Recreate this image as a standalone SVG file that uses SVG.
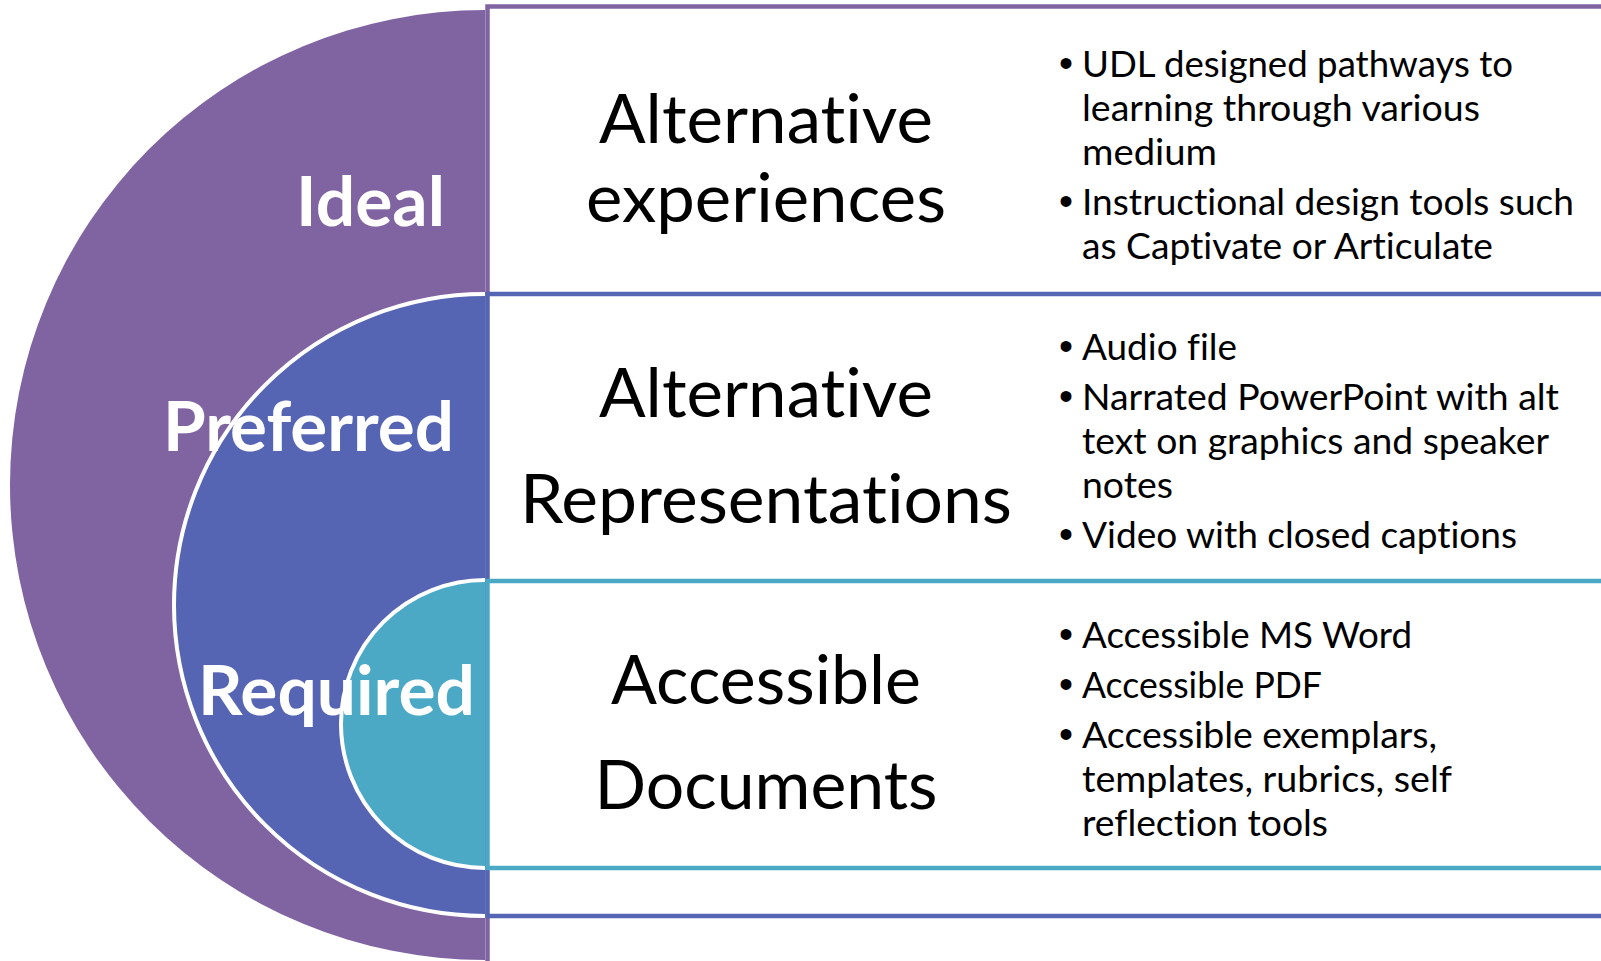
<svg xmlns="http://www.w3.org/2000/svg" width="1601" height="961" viewBox="0 0 1601 961">
<style>
text{font-variant-ligatures:none;font-feature-settings:"liga" 0,"clig" 0,"calt" 0,"dlig" 0}
.lbl{font-family:Lato,"Liberation Sans",sans-serif;font-weight:bold;font-size:68px;fill:#fff}
.ttl{font-family:Lato,"Liberation Sans",sans-serif;font-size:68px;fill:#000;text-anchor:middle}
.bt{font-family:Lato,"Liberation Sans",sans-serif;font-size:37px;fill:#000}
.bu{font-family:"Liberation Sans",sans-serif;font-size:40px;fill:#000;text-anchor:middle}
.box{fill:#fff;stroke-width:4.5}
.arc{fill:none;stroke:#fff;stroke-width:4}
</style>
<rect width="1601" height="961" fill="#fff"/>
<g id="ideal">
<path d="M485,10 A475,475 0 0 0 485,960 Z" fill="#8064A2"/>
<rect class="box" x="487.5" y="6.5" width="1200" height="1000" stroke="#8064A2"/>
</g>
<g id="preferred">
<path d="M485,294 A311,311 0 0 0 485,916 Z" fill="#5665B3"/>
<path class="arc" d="M485,294 A311,311 0 0 0 485,916"/>
<rect class="box" x="487.5" y="294" width="1200" height="622" stroke="#5665B3"/>
</g>
<g id="required">
<path d="M485,580 A144,144 0 0 0 485,868 Z" fill="#4BA9C6"/>
<path class="arc" d="M485,580 A144,144 0 0 0 485,868"/>
<rect class="box" x="487.5" y="581" width="1200" height="287" stroke="#4BA9C6"/>
</g>
<g id="labels">
<text class="lbl" x="296" y="226" textLength="149" lengthAdjust="spacingAndGlyphs">Ideal</text>
<text class="lbl" x="163" y="451" textLength="291" lengthAdjust="spacingAndGlyphs">Preferred</text>
<text class="lbl" x="198" y="715" textLength="277" lengthAdjust="spacingAndGlyphs">Required</text>
</g>
<g id="row1">
<text class="ttl" x="766" y="143" textLength="334" lengthAdjust="spacingAndGlyphs">Alternative</text>
<text class="ttl" x="766" y="222" textLength="360" lengthAdjust="spacingAndGlyphs">experiences</text>
<text class="bu" x="1066" y="77">•</text>
<text class="bt" x="1082" y="77" textLength="431" lengthAdjust="spacingAndGlyphs">UDL designed pathways to</text>
<text class="bt" x="1082" y="121" textLength="398" lengthAdjust="spacingAndGlyphs">learning through various</text>
<text class="bt" x="1082" y="165" textLength="135" lengthAdjust="spacingAndGlyphs">medium</text>
<text class="bu" x="1066" y="215">•</text>
<text class="bt" x="1082" y="215" textLength="492" lengthAdjust="spacingAndGlyphs">Instructional design tools such</text>
<text class="bt" x="1082" y="259" textLength="411" lengthAdjust="spacingAndGlyphs">as Captivate or Articulate</text>
</g>
<g id="row2">
<text class="ttl" x="766" y="417" textLength="334" lengthAdjust="spacingAndGlyphs">Alternative</text>
<text class="ttl" x="766" y="523" textLength="492" lengthAdjust="spacingAndGlyphs">Representations</text>
<text class="bu" x="1066" y="360">•</text>
<text class="bt" x="1082" y="360" textLength="155" lengthAdjust="spacingAndGlyphs">Audio file</text>
<text class="bu" x="1066" y="410">•</text>
<text class="bt" x="1082" y="410" textLength="477" lengthAdjust="spacingAndGlyphs">Narrated PowerPoint with alt</text>
<text class="bt" x="1082" y="454" textLength="467" lengthAdjust="spacingAndGlyphs">text on graphics and speaker</text>
<text class="bt" x="1082" y="498" textLength="91" lengthAdjust="spacingAndGlyphs">notes</text>
<text class="bu" x="1066" y="548">•</text>
<text class="bt" x="1082" y="548" textLength="435" lengthAdjust="spacingAndGlyphs">Video with closed captions</text>
</g>
<g id="row3">
<text class="ttl" x="766" y="704" textLength="310" lengthAdjust="spacingAndGlyphs">Accessible</text>
<text class="ttl" x="766" y="809" textLength="343" lengthAdjust="spacingAndGlyphs">Documents</text>
<text class="bu" x="1066" y="648">•</text>
<text class="bt" x="1082" y="648" textLength="330" lengthAdjust="spacingAndGlyphs">Accessible MS Word</text>
<text class="bu" x="1066" y="698">•</text>
<text class="bt" x="1082" y="698" textLength="240" lengthAdjust="spacingAndGlyphs">Accessible PDF</text>
<text class="bu" x="1066" y="748">•</text>
<text class="bt" x="1082" y="748" textLength="355" lengthAdjust="spacingAndGlyphs">Accessible exemplars,</text>
<text class="bt" x="1082" y="792" textLength="370" lengthAdjust="spacingAndGlyphs">templates, rubrics, self</text>
<text class="bt" x="1082" y="836" textLength="246" lengthAdjust="spacingAndGlyphs">reflection tools</text>
</g>
<g id="connectors"/>
</svg>
